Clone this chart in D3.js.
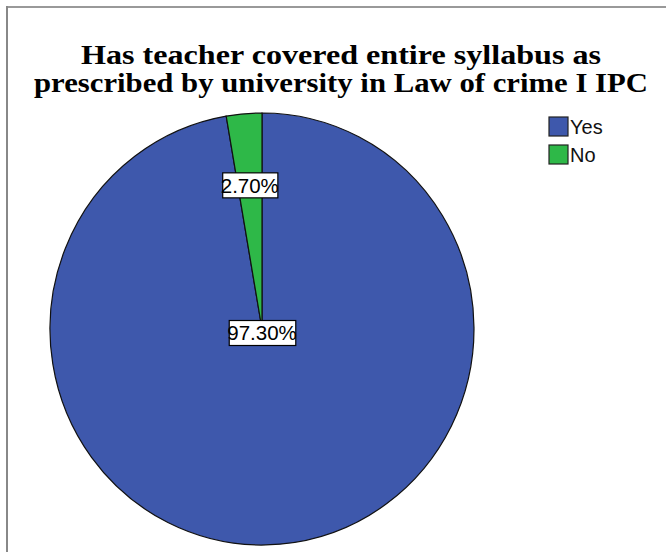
<!doctype html>
<html>
<head>
<script src="https://d3js.org/d3.v7.min.js"></script>
<style>
body { margin: 0; background: #fff; }
</style>
</head>
<body>
<svg width="666" height="552"></svg>
<script>
// data
var categories = ["Yes", "No"];
var percents = [97.30, 2.70];
var colors = ["#3E58AC", "#2EB848"];
var titleLines = ["Has teacher covered entire syllabus as",
                  "prescribed by university in Law of crime I IPC"];

var svg = d3.select("svg");

// frame (top + left edge only visible)
svg.append("line").attr("x1", 6).attr("y1", 7).attr("x2", 666).attr("y2", 7)
   .attr("stroke", "#999").attr("stroke-width", 2);
svg.append("line").attr("x1", 7).attr("y1", 6).attr("x2", 7).attr("y2", 552)
   .attr("stroke", "#888").attr("stroke-width", 2);

// title
svg.selectAll(".title")
   .data(titleLines)
   .enter().append("text")
   .attr("class", "title")
   .attr("x", 341)
   .attr("y", (d, i) => 64 + i * 28)
   .attr("text-anchor", "middle")
   .attr("textLength", (d, i) => i == 0 ? 520 : 614)
   .attr("lengthAdjust", "spacingAndGlyphs")
   .style("font-family", "'Liberation Serif', 'DejaVu Serif', serif")
   .style("font-weight", "bold")
   .style("font-size", "27.5px")
   .text(d => d);

// pie
var cx = 262, cy = 329, r = 212;
var data = categories.map((c, i) => ({ cat: c, val: percents[i], col: colors[i] }));
var pie = d3.pie().sort(null).value(d => d.val);
var arc = d3.arc().innerRadius(0).outerRadius(r);
var arcs = pie(data);

var g = svg.append("g")
   .attr("transform", "translate(" + cx + "," + cy + ") scale(1," + (216 / 212) + ")");

g.selectAll("path")
   .data(arcs)
   .enter().append("path")
   .attr("d", arc)
   .attr("fill", d => d.data.col)
   .attr("stroke", "#111")
   .attr("stroke-width", 1.2);

// labels: big slice label sits at centre, small one part way out
var labelArc = d3.arc().innerRadius(0).outerRadius(r * 1.36);
var labels = svg.append("g")
   .attr("transform", "translate(" + cx + "," + cy + ")");

arcs.forEach(function (d, i) {
    var p = i == 0 ? [0, 4] : labelArc.centroid(d);
    var lg = labels.append("g").attr("transform", "translate(" + p[0] + "," + p[1] + ")");
    var t = lg.append("text")
       .attr("text-anchor", "middle")
       .attr("dy", "0.36em")
       .style("font-family", "'Liberation Sans', Arial, sans-serif")
       .style("font-size", "20.5px")
       .text(d.data.val.toFixed(2) + "%");
    var bb = t.node().getBBox();
    lg.insert("rect", "text")
       .attr("x", bb.x + 2)
       .attr("y", -12.5)
       .attr("width", bb.width - 3)
       .attr("height", 25)
       .attr("fill", "#fff")
       .attr("stroke", "#000")
       .attr("stroke-width", 1.2);
});

// legend
var legend = svg.append("g").attr("transform", "translate(549,117)");
var item = legend.selectAll("g")
   .data(data)
   .enter().append("g")
   .attr("transform", (d, i) => "translate(0," + i * 28 + ")");
item.append("rect")
   .attr("width", 19).attr("height", 19)
   .attr("fill", d => d.col)
   .attr("stroke", "#222").attr("stroke-width", 1.2);
item.append("text")
   .attr("x", 21).attr("y", 10).attr("dy", "0.36em")
   .style("font-family", "'Liberation Sans', Arial, sans-serif")
   .style("font-size", "20px")
   .attr("fill", "#111")
   .text(d => d.cat);
</script>
</body>
</html>
